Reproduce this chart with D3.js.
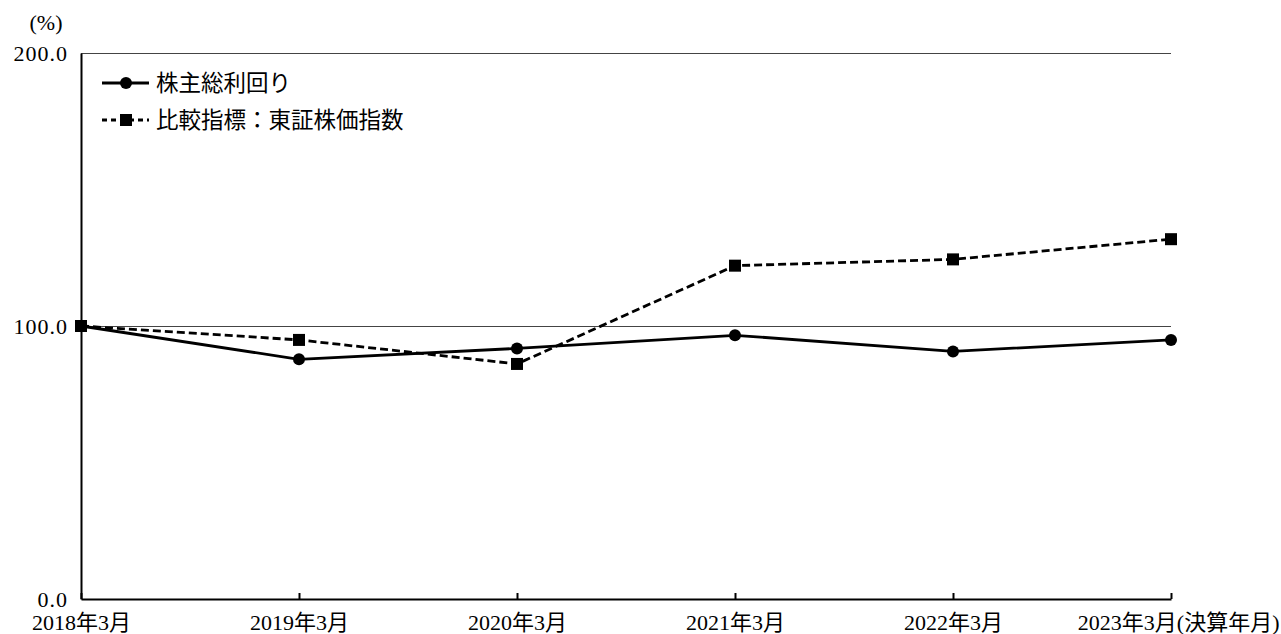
<!DOCTYPE html>
<html>
<head>
<meta charset="utf-8">
<script src="https://cdn.jsdelivr.net/npm/d3@7"></script>
<style>
  body { margin: 0; background: #fff; }
  svg text { font-family: "Liberation Serif", "Noto Sans CJK JP", serif; fill: #000; }
</style>
</head>
<body>
<div id="viz"></div>
<script>
const categories = ['2018年3月', '2019年3月', '2020年3月', '2021年3月', '2022年3月', '2023年3月'];
const tsrValues = [100.0, 87.8, 91.8, 96.6, 90.7, 94.9];
const topixValues = [100.0, 94.9, 86.1, 122.1, 124.4, 131.8];
const seriesNames = ['株主総利回り', '比較指標：東証株価指数'];
const yTicks = [0, 100, 200];
const xSuffix = '(決算年月)';

const width = 1281;
const height = 634;

const svg = d3.select('#viz')
  .append('svg')
  .attr('width', width)
  .attr('height', height);

const x = d3.scalePoint().domain(categories).range([81, 1171]);
const y = d3.scaleLinear().domain([0, 200]).range([599, 53]);

// gridlines (100 and 200 only)
svg.append('g')
  .selectAll('line')
  .data(yTicks.filter(d => d > 0))
  .enter()
  .append('line')
  .attr('x1', 81)
  .attr('x2', 1171)
  .attr('y1', d => Math.round(y(d)) + 0.5)
  .attr('y2', d => Math.round(y(d)) + 0.5)
  .attr('stroke', '#444')
  .attr('stroke-width', 1);

// y axis
const yAxis = svg.append('g')
  .attr('transform', 'translate(81,0)')
  .call(d3.axisLeft(y).tickValues(yTicks).tickFormat(d3.format('.1f')).tickSize(0).tickPadding(13));
yAxis.select('.domain').attr('stroke', '#000').attr('stroke-width', 2);
yAxis.selectAll('text').style('font-size', '22px').style('letter-spacing', '1px');

svg.append('text')
  .attr('x', 46)
  .attr('y', 30)
  .attr('text-anchor', 'middle')
  .style('font-size', '22px')
  .text('(%)');

// x axis
const xAxis = svg.append('g')
  .attr('transform', 'translate(0,599)')
  .call(d3.axisBottom(x).tickSizeInner(-6).tickSizeOuter(0).tickPadding(15));
xAxis.select('.domain').attr('stroke', '#000').attr('stroke-width', 2);
xAxis.selectAll('.tick line').attr('stroke', '#000').attr('stroke-width', 2);
xAxis.selectAll('text').style('font-size', '22px');
xAxis.selectAll('.tick')
  .filter(d => d === categories[categories.length - 1])
  .select('text')
  .attr('text-anchor', 'end')
  .attr('x', 108)
  .text(d => d + xSuffix);

const line = d3.line()
  .x((d, i) => x(categories[i]))
  .y(d => y(d));

// series lines
svg.append('path')
  .datum(tsrValues)
  .attr('fill', 'none')
  .attr('stroke', '#000')
  .attr('stroke-width', 2.8)
  .attr('d', line);

svg.append('path')
  .datum(topixValues)
  .attr('fill', 'none')
  .attr('stroke', '#000')
  .attr('stroke-width', 2.8)
  .attr('stroke-dasharray', '8,4')
  .attr('d', line);

// markers
svg.append('g')
  .selectAll('circle')
  .data(tsrValues)
  .enter()
  .append('circle')
  .attr('cx', (d, i) => x(categories[i]))
  .attr('cy', d => y(d))
  .attr('r', 6)
  .attr('fill', '#000');

svg.append('g')
  .selectAll('rect')
  .data(topixValues)
  .enter()
  .append('rect')
  .attr('x', (d, i) => x(categories[i]) - 6)
  .attr('y', d => y(d) - 6)
  .attr('width', 12)
  .attr('height', 12)
  .attr('fill', '#000');

// legend
const legend = svg.append('g').attr('transform', 'translate(102,0)');
const legendY = [83, 120];

seriesNames.forEach((name, i) => {
  const g = legend.append('g').attr('transform', `translate(0,${legendY[i]})`);
  g.append('line')
    .attr('x1', 0)
    .attr('x2', 47)
    .attr('stroke', '#000')
    .attr('stroke-width', 2.8)
    .attr('stroke-dasharray', i === 1 ? '5,4' : null);
  if (i === 0) {
    g.append('circle').attr('cx', 24).attr('r', 6).attr('fill', '#000');
  } else {
    g.append('rect').attr('x', 18).attr('y', -6).attr('width', 12).attr('height', 12).attr('fill', '#000');
  }
  g.append('text')
    .attr('x', 54)
    .attr('dy', '0.36em')
    .style('font-size', '22.5px')
    .text(name);
});
</script>
</body>
</html>
